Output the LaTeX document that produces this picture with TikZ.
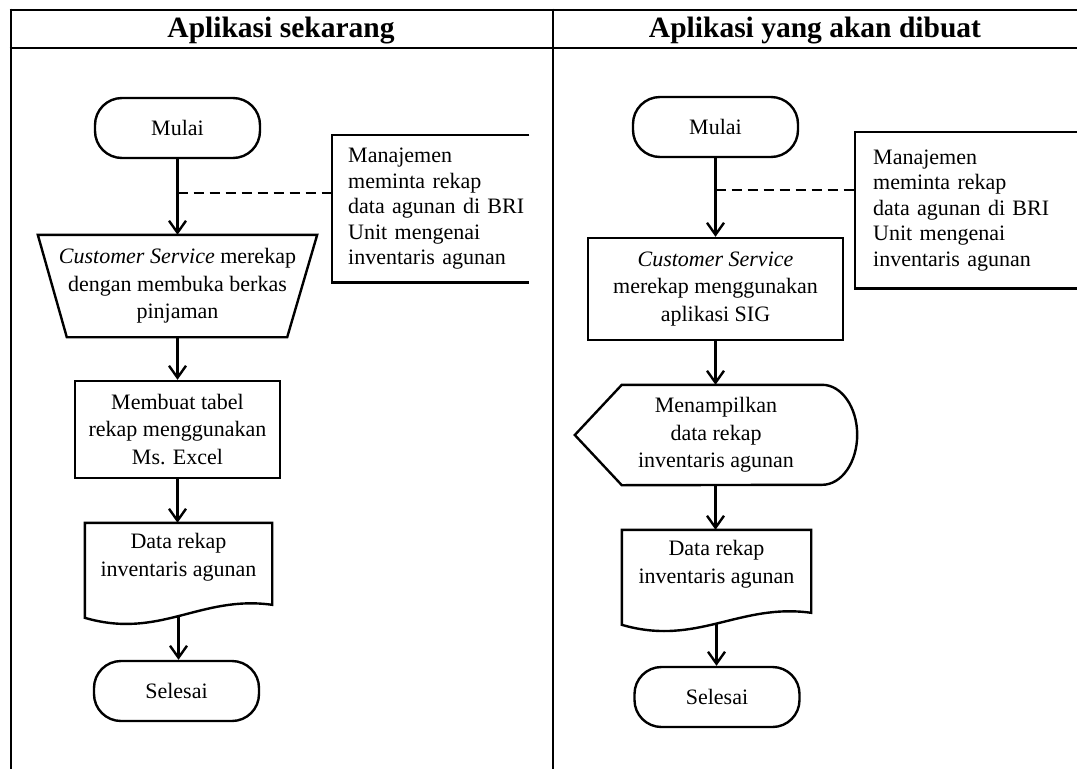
\documentclass[tikz,border=0pt]{standalone}
\usepackage{fontspec}
\setmainfont{Liberation Serif}
\usetikzlibrary{arrows.meta,calc}
\begin{document}
\begin{tikzpicture}[x=1pt,y=-1pt,
  every node/.style={font=\fontsize{22}{27.5}\selectfont},
  lw/.style={line width=2.4pt},
  hdr/.style={font=\fontsize{29.5}{34}\selectfont\bfseries, inner sep=0pt},
  term/.style={draw, line width=2.4pt, rounded corners=27pt, minimum width=165pt, minimum height=60pt, inner sep=0pt},
  proc/.style={draw, line width=2.4pt, align=center, inner sep=0pt},
  plain/.style={align=center, inner sep=0pt},
  annot/.style={align=left, inner xsep=16pt, inner ysep=0pt, font=\fontsize{22}{25.5}\selectfont},
  flow/.style={line width=2.4pt, -{Straight Barb[length=12pt,width=17pt,line width=2.4pt]}},
  note/.style={line width=2.4pt, dash pattern=on 10pt off 6pt},
  grid/.style={line width=2.8pt}
]
\useasboundingbox (0,0) rectangle (1077,769);

% table
\draw[grid] (9.6,10) -- (1077,10);
\draw[grid] (9.6,48) -- (1077,48);
\draw[grid] (11,8.6) -- (11,769);
\draw[grid] (553,8.6) -- (553,769);
\node[hdr, anchor=base] (h1) at (281,37) {Aplikasi sekarang};
\node[hdr, anchor=base] (h2) at (815,37) {Aplikasi yang akan dibuat};

% left flow
\node[term] (m1) at (177.5,128) {Mulai};
\node[plain, minimum width=279pt, minimum height=102pt] (cs1) at (177.5,286) {\textit{Customer Service} merekap\\dengan membuka berkas\\pinjaman};
\draw[lw] (cs1.north west) -- (cs1.north east) -- ($(cs1.south east)+(-30,0)$) -- ($(cs1.south west)+(29,0)$) -- cycle;
\node[proc, minimum width=205pt, minimum height=97pt] (p1) at (177.5,429.5) {Membuat tabel\\rekap menggunakan\\Ms. Excel};
\node[plain, minimum width=187pt, minimum height=68pt] (d1) at (178.5,557) {Data rekap\\inventaris agunan};
\draw[lw] (d1.north west) -- (d1.north east) -- ($(d1.north east)+(0,82)$) .. controls ($(d1.north east)+(-72,72)$) and ($(d1.north west)+(75,117)$) .. ($(d1.north west)+(0,95)$) -- cycle;
\coordinate (d1b) at ($(d1.south)+(0,25)$);
\node[term] (e1) at (176.5,691) {Selesai};

\node[annot, text width=181pt, minimum height=147pt, anchor=north west] (a1) at (332,135) {Manajemen\\meminta rekap\\data agunan di BRI\\Unit mengenai\\inventaris agunan};
\draw[lw] ($(a1.north east)+(-16,0)$) -- (a1.north west) -- (a1.south west) -- ($(a1.south east)+(-16,0)$);
\coordinate (j1) at ($(m1.south)+(0,34)$);

\draw[flow] (m1.south) -- (m1.south |- cs1.north);
\draw[note] (j1) -- (j1 -| a1.west);
\draw[flow] (cs1.south) -- (cs1.south |- p1.north);
\draw[flow] (p1.south) -- (p1.south |- d1.north);
\draw[flow] (d1b) -- (d1b |- e1.north);

% right flow
\node[term] (m2) at (715.5,127) {Mulai};
\node[proc, minimum width=255pt, minimum height=102pt] (cs2) at (715.5,289) {\textit{Customer Service}\\merekap menggunakan\\aplikasi SIG};
\node[plain, minimum width=188pt, minimum height=100pt] (ds) at (716,435) {Menampilkan\\data rekap\\inventaris agunan};
\draw[lw] ($(ds.west)+(-47,0)$) -- (ds.north west) -- ($(ds.north east)+(12,0)$) arc[start angle=90,end angle=-90,x radius=35pt,y radius=50pt] -- (ds.south west) -- cycle;
\node[plain, minimum width=189pt, minimum height=68pt] (d2) at (716.5,564) {Data rekap\\inventaris agunan};
\draw[lw] (d2.north west) -- (d2.north east) -- ($(d2.north east)+(0,83)$) .. controls ($(d2.north east)+(-72,73)$) and ($(d2.north west)+(75,117)$) .. ($(d2.north west)+(0,95)$) -- cycle;
\coordinate (d2b) at ($(d2.south)+(0,25)$);
\node[term] (e2) at (717,697) {Selesai};

\node[annot, inner xsep=18pt, text width=186pt, minimum height=156pt, anchor=north west] (a2) at (855,132) {Manajemen\\meminta rekap\\data agunan di BRI\\Unit mengenai\\inventaris agunan};
\draw[lw] (a2.north east) -- (a2.north west) -- (a2.south west) -- (a2.south east);
\coordinate (j2) at ($(m2.south)+(0,32)$);

\draw[flow] (m2.south) -- (m2.south |- cs2.north);
\draw[note] (j2) -- (j2 -| a2.west);
\draw[flow] (cs2.south) -- (cs2.south |- ds.north);
\draw[flow] (cs2.south |- ds.south) -- (cs2.south |- d2.north);
\draw[flow] (d2b) -- (d2b |- e2.north);
\end{tikzpicture}
\end{document}
